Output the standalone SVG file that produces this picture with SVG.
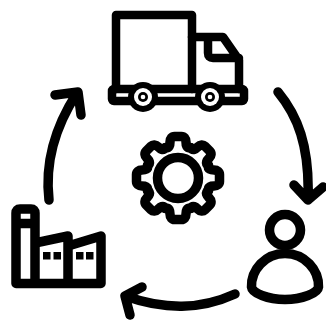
<svg xmlns="http://www.w3.org/2000/svg" xmlns:xlink="http://www.w3.org/1999/xlink" width="326" height="323" viewBox="0 0 326 323">
<style>
.s{fill:none;stroke:#000;stroke-width:8.5;stroke-linecap:round;stroke-linejoin:round}
.t{stroke-width:9.500}
.k{fill:#000}
.w{fill:#fff}
</style>
<defs>
<path id="tooth" d="M-12.6 -30.5C-8.500 -29.500 -8 -33 -8 -36C-8 -39.500 -6 -41.500 -3.500 -41.500L3.500 -41.500C6 -41.500 8 -39.500 8 -36C8 -33 8.500 -29.500 12.6 -30.5"/>
<g id="wheel"><circle r="15" class="k"/><circle r="9" class="w"/><circle r="5" class="k"/><circle r="2.300" class="w"/></g>
</defs>
<rect width="326" height="323" fill="#fff"/>
<g id="connectors" class="s t">
<path d="M49 200C45 165 53 130 77 93M55 95L78 92L81 115"/>
<path d="M278 92C297 115 310 145 308 200M294 185L308 200L323 187"/>
<path d="M235 294C200 310 165 310 125 296M142 287L125 296L130 315"/>
</g>
<g id="truck">
<path class="s" d="M116 89V15H192V89"/>
<path class="s" d="M192 37H223L239 60V89M208 37V53Q208 58 213 58H239"/>
<rect class="s" x="112" y="89" width="132" height="12" rx="2"/>
<use xlink:href="#wheel" href="#wheel" x="143" y="97"/>
<use xlink:href="#wheel" href="#wheel" x="210" y="97"/>
</g>
<g id="factory">
<path class="s t" d="M16 283.500V213Q16 209 20 209H31Q35 209 35 213V283.500M16 223.500H35M35 243L68 236M68 283.500V236M68 246L101 236V283.500M16 283.500H101"/>
<rect class="k" x="43" y="252" width="7.500" height="7.500"/>
<rect class="k" x="53.500" y="252" width="7.500" height="7.500"/>
<rect class="k" x="76" y="252" width="7.500" height="7.500"/>
<rect class="k" x="86" y="252" width="7.500" height="7.500"/>
</g>
<g id="person">
<circle class="s t" cx="285" cy="230" r="15.500"/>
<path class="s t" d="M285 253.500C265 253.500 251 270 251.500 287C252 293 268 299.500 285 299.500C302 299.500 318 293 318.500 287C319 270 305 253.500 285 253.500Z"/>
</g>
<g id="gear">
<circle class="s t" cx="178" cy="178" r="20.500"/>
<g class="s t">
<use xlink:href="#tooth" href="#tooth" transform="translate(178 178)"/>
<use xlink:href="#tooth" href="#tooth" transform="translate(178 178) rotate(45)"/>
<use xlink:href="#tooth" href="#tooth" transform="translate(178 178) rotate(90)"/>
<use xlink:href="#tooth" href="#tooth" transform="translate(178 178) rotate(135)"/>
<use xlink:href="#tooth" href="#tooth" transform="translate(178 178) rotate(180)"/>
<use xlink:href="#tooth" href="#tooth" transform="translate(178 178) rotate(225)"/>
<use xlink:href="#tooth" href="#tooth" transform="translate(178 178) rotate(270)"/>
<use xlink:href="#tooth" href="#tooth" transform="translate(178 178) rotate(315)"/>
</g>
</g>
</svg>
